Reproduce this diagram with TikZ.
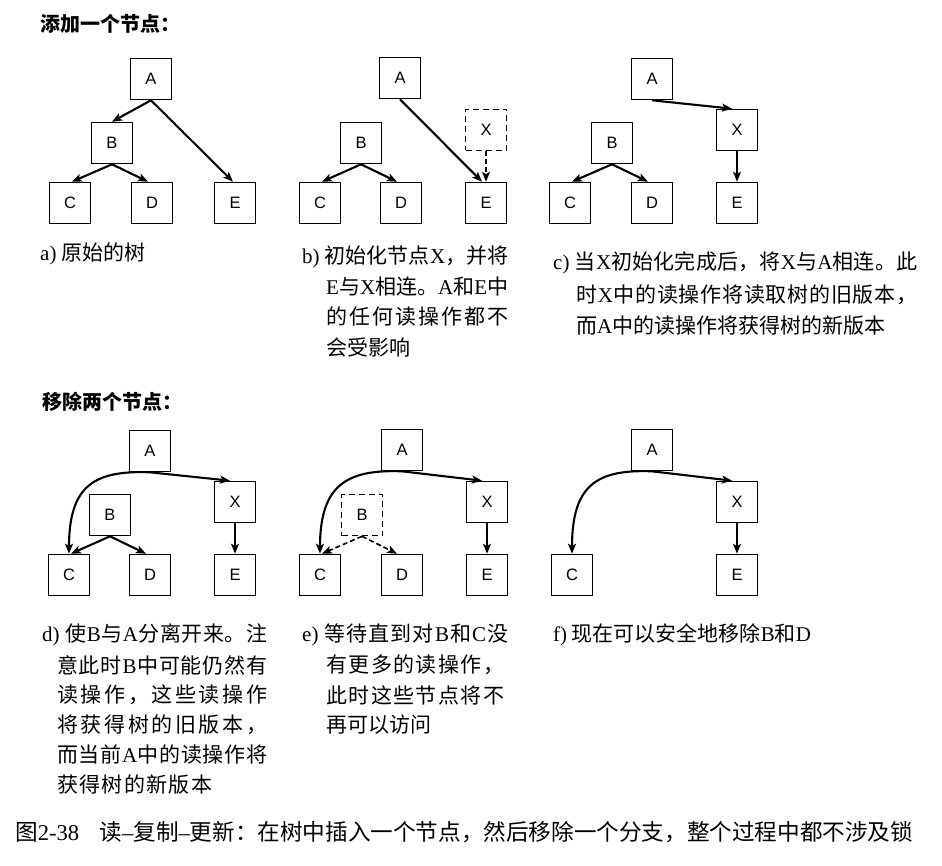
\documentclass[tikz,border=0pt]{standalone}
\usepackage{fontspec}
\setmainfont{Liberation Serif}
\newfontfamily\cjk{Noto Sans CJK SC}
\newfontfamily\lf{Liberation Serif}
\newfontfamily\sanslab{Liberation Sans}
\usetikzlibrary{arrows.meta}
\newcommand\LT[1]{{\lf #1}}
\def\jloop#1{\ifx\relax#1\else{#1}\hskip 0pt plus 1fil\relax\expandafter\jloop\fi}
\newcommand\jline[2]{\makebox[#1][s]{\jloop#2\relax\unskip}}
\tikzset{
  box/.style={draw, line width=1.6pt, minimum size=41pt, inner sep=0pt,
    font=\sanslab\fontsize{16.5}{16.5}\selectfont},
  dbox/.style={box, dash pattern=on 6pt off 4pt},
  arr/.style={line width=2.1pt, -{Stealth[length=10pt,width=8pt,inset=2.5pt]}},
  varr/.style={line width=1.6pt, -{Stealth[length=10pt,width=8pt,inset=2.5pt]}},
  darr/.style={varr, dash pattern=on 5pt off 3pt},
  captext/.style={anchor=west, inner sep=0pt, font=\cjk\fontsize{21}{21}\selectfont},
  headtext/.style={anchor=west, inner sep=0pt, font=\cjk\bfseries\fontsize{20}{20}\selectfont},
  figcap/.style={anchor=west, inner sep=0pt, font=\cjk\fontsize{22.6}{22.6}\selectfont}
}
\begin{document}
\begin{tikzpicture}[x=1pt,y=-1pt]
\fill[white] (0,0) rectangle (942,866);
\useasboundingbox (0,0) rectangle (942,866);

% headers
\node[headtext] (h1) at (40,24) {添加一个节点：};
\node[headtext] (h2) at (42,402) {移除两个节点：};

% panel a
\node[box] (aA) at (151,79) {A};
\node[box] (aB) at (112,143) {B};
\node[box] (aC) at (70,203) {C};
\node[box] (aD) at (152,203) {D};
\node[box] (aE) at (235,203) {E};
\draw[arr] (aA.south) -- (aB.north);
\draw[arr] (aA.south) -- ([xshift=-2pt]aE.north);
\draw[arr] (aB.south) -- ([xshift=2pt]aC.north);
\draw[arr] (aB.south) -- ([xshift=-4pt]aD.north);

% panel b
\node[box] (bA) at (400,78) {A};
\node[box] (bB) at (361,143) {B};
\node[box] (bC) at (320,203) {C};
\node[box] (bD) at (401,203) {D};
\node[box] (bE) at (486,203) {E};
\node[dbox] (bX) at (486,130) {X};
\draw[arr] (bA.south) -- ([xshift=-4pt]bE.north);
\draw[arr] (bB.south) -- ([xshift=2pt]bC.north);
\draw[arr] (bB.south) -- ([xshift=-4pt]bD.north);
\draw[darr] (bX.south) -- (bE.north);

% panel c
\node[box] (cA) at (652,79) {A};
\node[box] (cB) at (612,143) {B};
\node[box] (cC) at (570,203) {C};
\node[box] (cD) at (652,203) {D};
\node[box] (cX) at (737,130) {X};
\node[box] (cE) at (737,203) {E};
\draw[arr] (cA.south) -- ([xshift=-5pt]cX.north);
\draw[arr] (cB.south) -- ([xshift=2pt]cC.north);
\draw[arr] (cB.south) -- ([xshift=-4pt]cD.north);
\draw[varr] (cX.south) -- (cE.north);

% panel d
\node[box] (dA) at (150,451) {A};
\node[box] (dB) at (110,515) {B};
\node[box] (dX) at (235,502) {X};
\node[box] (dC) at (69,575) {C};
\node[box] (dD) at (150,575) {D};
\node[box] (dE) at (235,575) {E};
\draw[arr] (dA.south) .. controls ([xshift=-55pt,yshift=2pt]dA.south) and ([yshift=69pt]dC.north) .. (dC.north);
\draw[arr] (dA.south) -- ([xshift=-5pt]dX.north);
\draw[arr] (dB.south) -- ([xshift=2pt]dC.north);
\draw[arr] (dB.south) -- ([xshift=-4pt]dD.north);
\draw[varr] (dX.south) -- (dE.north);

% panel e
\node[box] (eA) at (402,450) {A};
\node[dbox] (eB) at (362,515) {B};
\node[box] (eX) at (487,502) {X};
\node[box] (eC) at (320,575) {C};
\node[box] (eD) at (402,575) {D};
\node[box] (eE) at (487,575) {E};
\draw[arr] (eA.south) .. controls ([xshift=-55pt,yshift=2pt]eA.south) and ([yshift=69pt]eC.north) .. (eC.north);
\draw[arr] (eA.south) -- ([xshift=-5pt]eX.north);
\draw[darr] (eB.south) -- ([xshift=2pt]eC.north);
\draw[darr] (eB.south) -- ([xshift=-5pt]eD.north);
\draw[varr] (eX.south) -- (eE.north);

% panel f
\node[box] (fA) at (652,450) {A};
\node[box] (fX) at (737,502) {X};
\node[box] (fC) at (572,575) {C};
\node[box] (fE) at (737,575) {E};
\draw[arr] (fA.south) .. controls ([xshift=-55pt,yshift=2pt]fA.south) and ([yshift=69pt]fC.north) .. (fC.north);
\draw[arr] (fA.south) -- ([xshift=-5pt]fX.north);
\draw[varr] (fX.south) -- (fE.north);

% captions a-c
\node[captext] (ta1) at (40,254) {\LT{a)} 原始的树};

\node[captext] (tb1) at (302,257) {\jline{206pt}{{\lf b)~}初始化节点{\lf X}，并将}};
\node[captext] (tb2) at (326,287) {\jline{182pt}{{\lf E}与{\lf X}相连。{\lf A}和{\lf E}中}};
\node[captext] (tb3) at (326,317) {\jline{182pt}{的任何读操作都不}};
\node[captext] (tb4) at (326,347) {会受影响};

\node[captext] (tc1) at (553,263) {\jline{364pt}{{\lf c)~}当{\lf X}初始化完成后，将{\lf X}与{\lf A}相连。此}};
\node[captext] (tc2) at (576,295) {\jline{341pt}{时{\lf X}中的读操作将读取树的旧版本，}};
\node[captext] (tc3) at (576,326) {而\LT{A}中的读操作将获得树的新版本};

% captions d-f
\node[captext] (td1) at (42,635) {\jline{225pt}{{\lf d)~}使{\lf B}与{\lf A}分离开来。注}};
\node[captext] (td2) at (57,665) {\jline{210pt}{意此时{\lf B}中可能仍然有}};
\node[captext] (td3) at (57,695) {\jline{210pt}{读操作，这些读操作}};
\node[captext] (td4) at (57,725) {\jline{210pt}{将获得树的旧版本，}};
\node[captext] (td5) at (57,755) {\jline{210pt}{而当前{\lf A}中的读操作将}};
\node[captext] (td6) at (57,785) {\jline{155pt}{获得树的新版本}};

\node[captext] (te1) at (302,635) {\jline{206pt}{{\lf e)~}等待直到对{\lf B}和{\lf C}没}};
\node[captext] (te2) at (326,665) {\jline{178pt}{有更多的读操作，}};
\node[captext] (te3) at (326,695) {\jline{178pt}{此时这些节点将不}};
\node[captext] (te4) at (326,725) {再可以访问};

\node[captext] (tf1) at (553,635) {\LT{f)} 现在可以安全地移除\LT{B}和\LT{D}};

% figure caption
\node[figcap] (fig) at (15,832) {图\LT{2-38}\hspace{0.9em}读\LT{–}复制\LT{–}更新：在树中插入一个节点，然后移除一个分支，整个过程中都不涉及锁};
\end{tikzpicture}
\end{document}
